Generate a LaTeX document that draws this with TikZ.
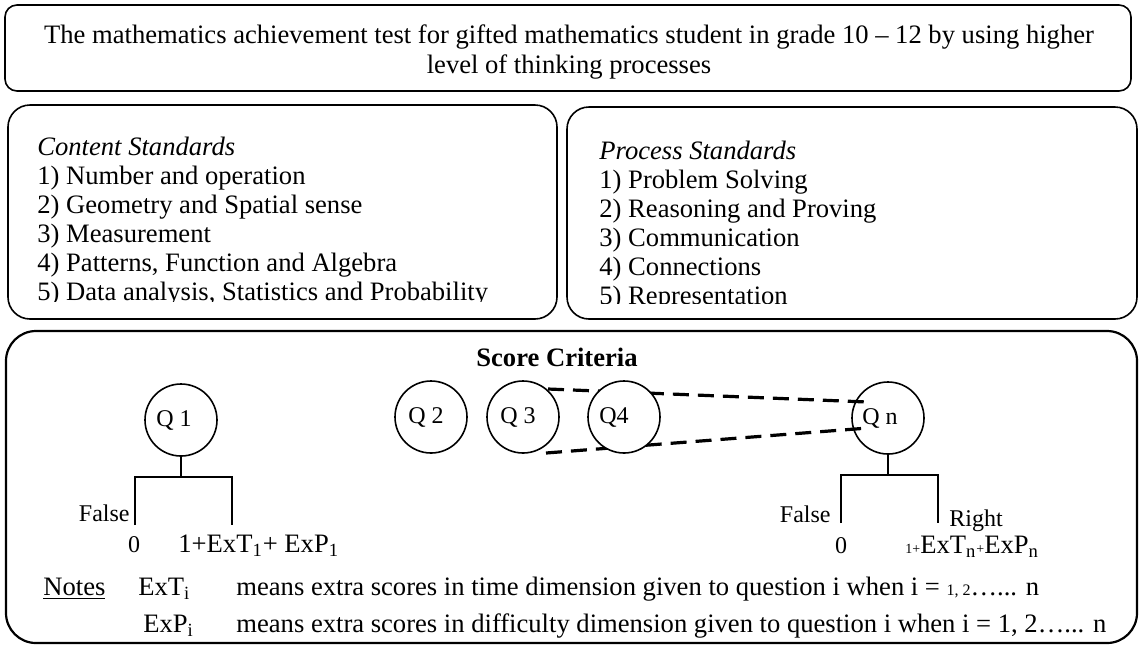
\documentclass[tikz,border=0pt]{standalone}
\usepackage{fontspec}
\setmainfont{Liberation Serif}
\usetikzlibrary{fit}
\begin{document}
\begin{tikzpicture}[x=0.5pt,y=-0.5pt,
  txt/.style={font=\fontsize{13.3}{15}\selectfont, inner sep=0pt, anchor=base west},
  lbl/.style={font=\fontsize{12}{14}\selectfont, inner sep=0pt, anchor=base west},
  panel/.style={draw, line width=0.8pt, rounded corners=#1, inner sep=0pt},
  qnode/.style={circle, draw, fill=white, line width=0.8pt, minimum size=36pt, inner sep=0pt, font=\fontsize{12}{14}\selectfont},
  tree/.style={line width=0.8pt},
  dashline/.style={line width=1.6pt, dash pattern=on 8pt off 4.5pt}
]
\useasboundingbox (0,0) rectangle (1140,644);

% title
\node[panel=6pt, fit={(5,5) (1131,91)}] (title) {};
\node[txt, anchor=base] (t1) at (569,43) {The mathematics achievement test for gifted mathematics student in grade 10 – 12 by using higher};
\node[txt, anchor=base] (t2) at (569,73) {level of thinking processes};

% content standards
\node[panel=11pt, fit={(8,105) (557,319)}] (content) {};
\begin{scope}
\clip (8,105) rectangle (557,301);
\node[txt] (c0) at (37,155) {\textit{Content Standards}};
\node[txt] (c1) at (37,184) {1) Number and operation};
\node[txt] (c2) at (37,213) {2) Geometry and Spatial sense};
\node[txt] (c3) at (37,242) {3) Measurement};
\node[txt] (c4) at (37,271) {4) Patterns, Function and Algebra};
\node[txt] (c5) at (37,300) {5) Data analysis, Statistics and Probability};
\end{scope}

% process standards
\node[panel=11pt, fit={(567,107) (1137,319)}] (process) {};
\begin{scope}
\clip (567,107) rectangle (1137,303);
\node[txt] (p0) at (599,159) {\textit{Process Standards}};
\node[txt] (p1) at (599,188) {1) Problem Solving};
\node[txt] (p2) at (599,217) {2) Reasoning and Proving};
\node[txt] (p3) at (599,246) {3) Communication};
\node[txt] (p4) at (599,275) {4) Connections};
\node[txt] (p5) at (599,304) {5) Representation};
\end{scope}

% score criteria
\node[panel=15pt, line width=1.1pt, fit={(6,331) (1137,643)}] (score) {};
\node[txt, anchor=base, font=\fontsize{13.3}{15}\selectfont\bfseries] (sc) at (557,366) {Score Criteria};

\node[qnode] (q1) at (181,420) {Q 1\kern7pt};
\node[qnode] (q2) at (431,417) {Q 2\kern5pt};
\node[qnode] (q3) at (523,417) {Q 3\kern5pt};
\node[qnode, fill=none] (qn) at (888,418) {Q n\kern8pt};

\coordinate (d1a) at (548,389); \coordinate (d1b) at (867,402);
\coordinate (d2a) at (546,453); \coordinate (d2b) at (868,428);
\draw[dashline] (d1a) -- (d1b);
\draw[dashline] (d2a) -- (d2b);

\node[qnode] (q4) at (624,417) {Q4\kern10pt};

% tree Q1
\coordinate (q1j) at (181,477);
\coordinate (q1f) at (135,525);
\coordinate (q1r) at (232,525);
\draw[tree] (q1.south) -- (q1j);
\draw[tree] (q1f) |- (q1j) -| (q1r);
\node[lbl, anchor=base east] (q1false) at (130,521) {False};
\node[lbl, anchor=base] (q1zero) at (134,552) {0};
\node[txt] (q1score) at (178,552) {1+ExT\textsubscript{1}+ ExP\textsubscript{1}};

% tree Qn
\coordinate (qnj) at (888,475);
\coordinate (qnf) at (841,523);
\coordinate (qnr) at (938,523);
\draw[tree] (qn.south) -- (qnj);
\draw[tree] (qnf) |- (qnj) -| (qnr);
\node[lbl, anchor=base east] (qnfalse) at (831,522) {False};
\node[lbl] (qnright) at (949,526) {Right};
\node[lbl, anchor=base] (qnzero) at (841,553) {0};
\node[txt] (qnscore) at (905,553) {{\fontsize{7}{7}\selectfont 1+}ExT\textsubscript{n}{\fontsize{7}{7}\selectfont +}ExP\textsubscript{n}};

% notes
\node[txt] (notes) at (43,595) {\underline{Notes}};
\node[txt] (ext) at (138,595) {ExT\textsubscript{i}};
\node[txt] (extd) at (236,595) {means extra scores in time dimension given to question i when i = {\fontsize{8}{8}\selectfont 1, 2}…... n};
\node[txt] (exp) at (143,632) {ExP\textsubscript{i}};
\node[txt] (expd) at (236,632) {means extra scores in difficulty dimension given to question i when i = 1, 2…... n};
\end{tikzpicture}
\end{document}
